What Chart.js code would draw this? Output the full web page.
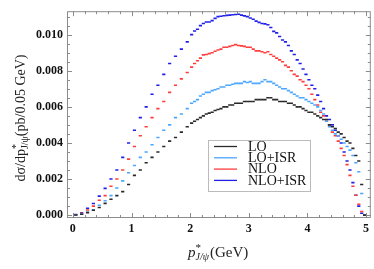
<!DOCTYPE html>
<html>
<head>
<meta charset="utf-8">
<script src="https://cdn.jsdelivr.net/npm/chart.js@4/dist/chart.umd.min.js"></script>
<style>
  html, body { margin: 0; padding: 0; background: #fff; }
  #wrap { width: 374px; height: 269px; position: relative; }
</style>
</head>
<body>
<div id="wrap"><canvas id="c"></canvas></div>
<script>
"use strict";

// bin positions (GeV): coarse below 2 GeV, 0.05 GeV bins above
const XS = [
  0.05, 0.15, 0.25, 0.35, 0.45, 0.55, 0.65, 0.75, 0.85, 0.95,
  1.05, 1.15, 1.25, 1.35, 1.45, 1.55, 1.65, 1.75, 1.85, 1.95,
  2.025, 2.075, 2.125, 2.175, 2.225, 2.275, 2.325, 2.375, 2.425, 2.475,
  2.525, 2.575, 2.625, 2.675, 2.725, 2.775, 2.825, 2.875, 2.925, 2.975,
  3.025, 3.075, 3.125, 3.175, 3.225, 3.275, 3.325, 3.375, 3.425, 3.475,
  3.525, 3.575, 3.625, 3.675, 3.725, 3.775, 3.825, 3.875, 3.925, 3.975,
  4.025, 4.075, 4.125, 4.175, 4.225, 4.275, 4.325, 4.375, 4.425, 4.475,
  4.525, 4.575, 4.625, 4.675, 4.725, 4.775, 4.825, 4.875, 4.925, 4.975,
];

const LO = [
  0.00001, 0.00005, 0.00014, 0.00027, 0.00042, 0.00065, 0.00088, 0.00108, 0.0013, 0.0017,
  0.0022, 0.0025, 0.0029, 0.0032, 0.0035, 0.0038, 0.0041, 0.0043, 0.0046, 0.0049,
  0.0051, 0.0052, 0.0053, 0.0054, 0.0055, 0.0056, 0.00565, 0.0057, 0.0058, 0.00585,
  0.0059, 0.0060, 0.0060, 0.0061, 0.0061, 0.0062, 0.0062, 0.0062, 0.0063, 0.0063,
  0.0063, 0.0063, 0.0064, 0.0064, 0.0064, 0.0064, 0.0065, 0.0065, 0.0064, 0.0064,
  0.0063, 0.0063, 0.0063, 0.0062, 0.0062, 0.0061, 0.0060, 0.0060, 0.0059, 0.0058,
  0.0057, 0.0057, 0.0056, 0.0055, 0.0054, 0.0053, 0.0053, 0.0050, 0.0049, 0.0048,
  0.0046, 0.0045, 0.0043, 0.0041, 0.0040, 0.0037, 0.0033, 0.0030, 0.0017, 0.0000,
];

const LO_ISR = [
  0.00001, 0.00006, 0.00016, 0.0003, 0.00055, 0.0008, 0.00108, 0.0015, 0.0019, 0.00235,
  0.00275, 0.0032, 0.0035, 0.0039, 0.0043, 0.0047, 0.0050, 0.0054, 0.0056, 0.0059,
  0.0062, 0.0063, 0.0064, 0.0066, 0.0067, 0.0068, 0.0068, 0.0069, 0.00695, 0.0070,
  0.0071, 0.0071, 0.0072, 0.0072, 0.00725, 0.0073, 0.0073, 0.0073, 0.0074, 0.00735,
  0.0074, 0.0073, 0.0073, 0.0073, 0.0074, 0.0075, 0.0074, 0.0074, 0.0073, 0.0072,
  0.0071, 0.0070, 0.0070, 0.0069, 0.0068, 0.0067, 0.0066, 0.0065, 0.0065, 0.0064,
  0.0063, 0.0062, 0.0061, 0.0060, 0.0058, 0.0056, 0.0052, 0.0049, 0.0047, 0.0045,
  0.0044, 0.0042, 0.0040, 0.0038, 0.0036, 0.0033, 0.0029, 0.0024, 0.0012, 0.0000,
];

const NLO = [
  0.00002, 0.0001, 0.00028, 0.0005, 0.00082, 0.00108, 0.0016, 0.0020, 0.0025, 0.0031,
  0.0038, 0.0044, 0.0049, 0.0054, 0.0059, 0.0063, 0.0068, 0.0072, 0.00755, 0.0079,
  0.0082, 0.0084, 0.00855, 0.0087, 0.00888, 0.0089, 0.00895, 0.0090, 0.00908, 0.00915,
  0.0092, 0.0093, 0.0093, 0.00935, 0.0094, 0.00945, 0.0094, 0.00938, 0.00935, 0.0093,
  0.0093, 0.0092, 0.0091, 0.0091, 0.00905, 0.0090, 0.00905, 0.0089, 0.0088, 0.0087,
  0.0086, 0.0085, 0.0083, 0.0082, 0.0080, 0.0078, 0.0077, 0.0075, 0.0074, 0.0072,
  0.0070, 0.0067, 0.0064, 0.0061, 0.0057, 0.0055, 0.0052, 0.0050, 0.0046, 0.0044,
  0.0041, 0.0037, 0.0033, 0.0028, 0.0022, 0.0016, 0.0011, 0.0006, 0.0002, 0.0000,
];

const NLO_ISR = [
  0.00003, 0.00013, 0.00038, 0.00064, 0.00105, 0.00148, 0.0020, 0.0025, 0.0032, 0.0040,
  0.0047, 0.0054, 0.0060, 0.0067, 0.0072, 0.0078, 0.0084, 0.0088, 0.0092, 0.0096,
  0.0100, 0.0102, 0.0103, 0.0105, 0.01062, 0.0107, 0.0107, 0.01078, 0.0109, 0.0110,
  0.01102, 0.01105, 0.01107, 0.01108, 0.0111, 0.01112, 0.01113, 0.01108, 0.01104, 0.0110,
  0.01092, 0.01085, 0.01075, 0.01068, 0.01062, 0.0106, 0.01055, 0.0104, 0.01018, 0.0101,
  0.0099, 0.0097, 0.0096, 0.0094, 0.0091, 0.0089, 0.0086, 0.0084, 0.0081, 0.0078,
  0.0075, 0.0072, 0.0070, 0.00665, 0.0063, 0.0059, 0.0055, 0.0053, 0.0050, 0.0047,
  0.0044, 0.0040, 0.0035, 0.0030, 0.0025, 0.0018, 0.0011, 0.0005, 0.0001, 0.0000,
];

const SERIES_NAMES = ["LO", "LO+ISR", "NLO", "NLO+ISR"];
const SERIES_COLORS = ["#2a2a2a", "#4aa6ff", "#ff3c3c", "#2020e8"];

const X_TICKS = [0, 1, 2, 3, 4, 5];
const Y_TICKS = [0, 0.002, 0.004, 0.006, 0.008, 0.010];

const FRAME = "#8c8c8c";
const SERIF = "'Liberation Serif', 'DejaVu Serif', serif";

const pts = (arr) => XS.map((x, i) => ({ x, y: arr[i] }));

// frame, inward ticks on all sides, legend box and axis titles
const decor = {
  id: "decor",
  afterDraw(chart) {
    const { ctx, chartArea: a, scales: { x, y } } = chart;
    ctx.save();
    ctx.strokeStyle = FRAME;
    ctx.lineWidth = 1;
    ctx.strokeRect(a.left + 0.5, a.top + 0.5, a.right - a.left - 1, a.bottom - a.top - 1);

    ctx.beginPath();
    for (let i = 0; i <= 25; i++) {
      const v = i * 0.2;
      const len = (i % 5 === 0) ? 5 : 3;
      const px = Math.round(x.getPixelForValue(v)) + 0.5;
      ctx.moveTo(px, a.bottom); ctx.lineTo(px, a.bottom - len);
      ctx.moveTo(px, a.top);    ctx.lineTo(px, a.top + len);
    }
    for (let i = 0; i <= 22; i++) {
      const v = i * 0.0005;
      const len = (i % 4 === 0) ? 5 : 3;
      const py = Math.round(y.getPixelForValue(v)) + 0.5;
      ctx.moveTo(a.left, py);  ctx.lineTo(a.left + len, py);
      ctx.moveTo(a.right, py); ctx.lineTo(a.right - len, py);
    }
    ctx.stroke();

    // legend
    const lx = 208, ly = 140, lw = 102, lh = 51;
    ctx.fillStyle = "#fff";
    ctx.fillRect(lx, ly, lw, lh);
    ctx.strokeStyle = "#bbb";
    ctx.strokeRect(lx + 0.5, ly + 0.5, lw, lh);
    ctx.font = "14px " + SERIF;
    ctx.textBaseline = "middle";
    ctx.textAlign = "left";
    SERIES_NAMES.forEach((name, i) => {
      const ry = ly + 6.5 + i * 11.3;
      ctx.strokeStyle = SERIES_COLORS[i];
      ctx.lineWidth = 1.3;
      ctx.beginPath(); ctx.moveTo(lx + 6, ry); ctx.lineTo(lx + 29, ry); ctx.stroke();
      ctx.fillStyle = "#111";
      ctx.fillText(name, lx + 40, ry + 0.5);
    });

    // x title: p*_{J/psi}(GeV)
    ctx.fillStyle = "#222";
    ctx.textBaseline = "alphabetic";
    let tx = 188, ty = 257;
    ctx.font = "italic 15px " + SERIF;
    ctx.fillText("p", tx, ty); tx += ctx.measureText("p").width;
    ctx.font = "11px " + SERIF;
    ctx.fillText("*", tx, ty - 6);
    ctx.font = "italic 10px " + SERIF;
    ctx.fillText("J/ψ", tx, ty + 3); tx += ctx.measureText("J/ψ").width + 1;
    ctx.font = "15px " + SERIF;
    ctx.fillText("(GeV)", tx, ty);

    // y title, rotated
    ctx.translate(20, 118);
    ctx.rotate(-Math.PI / 2);
    const parts = [
      ["14px ", "dσ/dp", 0],
      ["10px ", "*", -6],
      ["10px ", "J/ψ", 3],
      ["14px ", "(pb/0.05 GeV)", 0],
    ];
    let w = 0;
    parts.forEach(([f, t], i) => {
      ctx.font = f + SERIF;
      if (i !== 1) w += ctx.measureText(t).width;
    });
    let cx = -w / 2;
    parts.forEach(([f, t, dy], i) => {
      ctx.font = f + SERIF;
      ctx.fillText(t, cx, 5 + dy);
      if (i !== 1) cx += ctx.measureText(t).width;
    });
    ctx.restore();
  },
};

new Chart(document.getElementById("c"), {
  type: "scatter",
  data: {
    datasets: [LO, LO_ISR, NLO, NLO_ISR].map((arr, i) => ({
      label: SERIES_NAMES[i],
      data: pts(arr),
      showLine: false,
      pointStyle: "line",
      pointRadius: 1.6,
      pointHoverRadius: 1.6,
      borderWidth: 1.6,
      borderColor: SERIES_COLORS[i],
      backgroundColor: SERIES_COLORS[i],
    })),
  },
  options: {
    responsive: true,
    maintainAspectRatio: false,
    animation: false,
    layout: { padding: { top: 1, right: 1, left: 0, bottom: 0 } },
    plugins: { legend: { display: false }, tooltip: { enabled: false } },
    scales: {
      x: {
        type: "linear",
        min: -0.1,
        max: 5.08,
        grid: { display: false, drawTicks: false },
        border: { display: false },
        afterBuildTicks: (s) => { s.ticks = X_TICKS.map(v => ({ value: v })); },
        afterFit: (s) => { s.height = 51; },
        ticks: {
          padding: 4,
          color: "#111",
          maxRotation: 0,
          font: { family: SERIF, size: 12, weight: "bold" },
          callback: (v) => String(v),
        },
      },
      y: {
        type: "linear",
        min: -0.00016,
        max: 0.0113,
        grid: { display: false, drawTicks: false },
        border: { display: false },
        afterBuildTicks: (s) => { s.ticks = Y_TICKS.map(v => ({ value: v })); },
        afterFit: (s) => { s.width = 67; },
        ticks: {
          padding: 4,
          color: "#111",
          font: { family: SERIF, size: 12, weight: "bold" },
          callback: (v) => v.toFixed(3),
        },
      },
    },
  },
  plugins: [decor],
});
</script>
</body>
</html>
